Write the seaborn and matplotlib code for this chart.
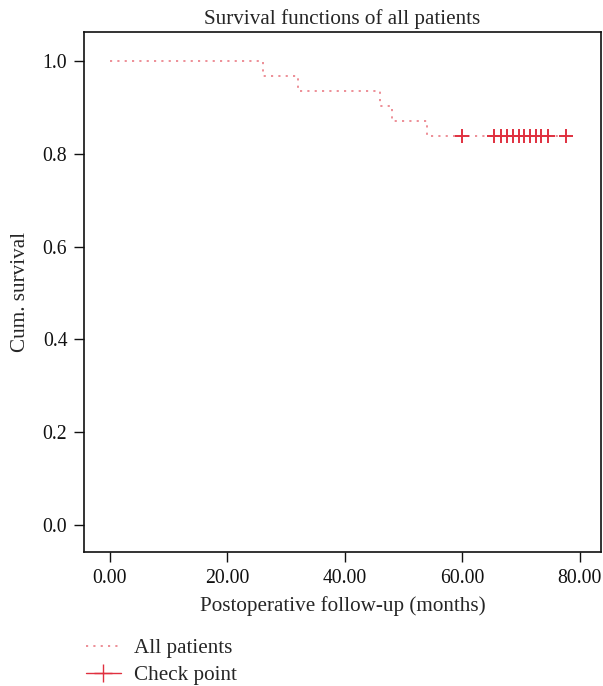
import numpy as np
import pandas as pd
import matplotlib
matplotlib.use("Agg")
import matplotlib.pyplot as plt
import seaborn as sns
from matplotlib.lines import Line2D

# Kaplan-Meier steps
tiempos = [0, 26, 32, 46, 48, 54, 78.3]
supervivencia = [1.0, 0.968, 0.935, 0.903, 0.871, 0.839, 0.839]

# censored cases (check points)
tiempos_censura = [60, 65.5, 66.6, 67.6, 68.6, 69.6, 70.6, 71.6, 72.5, 73.5, 74.6, 77.6]
surv_censura = [0.839] * len(tiempos_censura)

x_ticks = [0, 20, 40, 60, 80]
y_ticks = [0.0, 0.2, 0.4, 0.6, 0.8, 1.0]

sns.set_style("ticks")
plt.rcParams["font.family"] = ["Liberation Serif", "DejaVu Serif"]

color_linea = "#e8707a"
color_marca = "#e0303f"
fs = 15.2

df_km = pd.DataFrame({"t": tiempos, "s": supervivencia})
df_cens = pd.DataFrame({"t": tiempos_censura, "s": surv_censura})

fig = plt.figure(figsize=(6.03, 6.86), dpi=100)
ax = fig.add_axes([0.1393, 0.1953, 0.857, 0.758])

sns.lineplot(data=df_km, x="t", y="s", ax=ax, estimator=None, drawstyle="steps-post",
             color=color_linea, linewidth=1.1, linestyle=(0, (1.4, 3.4)))
sns.scatterplot(data=df_cens, x="t", y="s", ax=ax, marker="+", s=90,
                color=color_marca, linewidth=1.4, zorder=3)

ax.set_xlim(-4.4, 83.6)
ax.set_ylim(-0.058, 1.0625)
ax.set_xticks(x_ticks)
ax.set_xticklabels([f"{v:.2f}" for v in x_ticks])
ax.set_yticks(y_ticks)
ax.set_yticklabels([f"{v:.1f}" for v in y_ticks])
ax.tick_params(direction="out", length=7, width=1, labelsize=14.2, colors="#111111", pad=5)

for sp in ax.spines.values():
    sp.set_visible(True)
    sp.set_linewidth(1.2)
    sp.set_color("#111111")

ax.set_xlabel("Postoperative follow-up (months)", fontsize=fs, labelpad=6)
ax.set_ylabel("Cum. survival", fontsize=fs, labelpad=9)
ax.set_title("Survival functions of all patients", fontsize=fs, pad=6)

handles = [
    Line2D([], [], color=color_linea, linewidth=1.1, linestyle=(0, (1.4, 3.4))),
    Line2D([], [], color=color_marca, marker="+", markersize=13, linestyle="-", linewidth=1.0,
           markeredgewidth=1.0),
]
ax.legend(handles, ["All patients", "Check point"], loc="upper left",
          bbox_to_anchor=(-0.013, -0.15), frameon=False, fontsize=fs,
          handlelength=1.66, handletextpad=0.62, labelspacing=0.35, borderaxespad=0)

fig.savefig("out.png", dpi=100)
